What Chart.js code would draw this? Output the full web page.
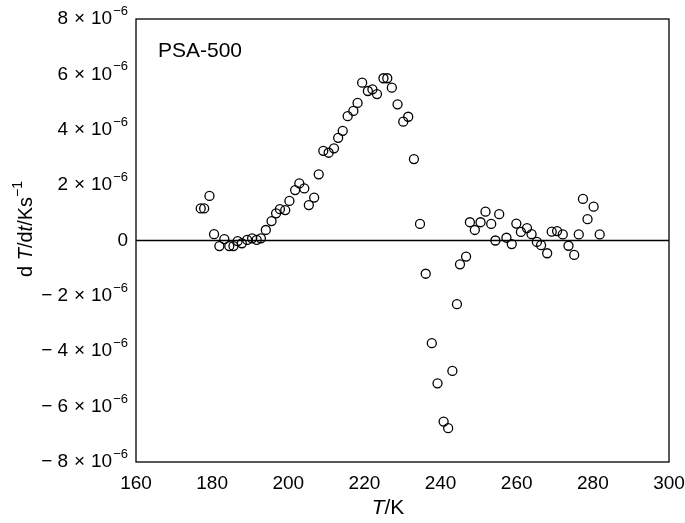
<!DOCTYPE html>
<html>
<head>
<meta charset="utf-8">
<script src="https://cdn.jsdelivr.net/npm/chart.js@4"></script>
<style>
  html, body { margin: 0; padding: 0; background: #fff; }
  #wrap { width: 685px; height: 523px; }
</style>
</head>
<body>
<div id="wrap"><canvas id="chart"></canvas></div>
<script>
// temperature, K
var temps = [177.0, 177.9, 179.3, 180.5, 181.9, 183.2, 184.5, 185.6, 186.7, 187.8,
  189.2, 190.5, 191.7, 192.8, 194.1, 195.6, 196.8, 197.8, 199.2, 200.3,
  201.8, 202.9, 204.2, 205.4, 206.8, 208.0, 209.2, 210.6, 212.0, 213.1,
  214.3, 215.6, 217.1, 218.2, 219.4, 220.9, 222.1, 223.3, 225.0, 226.0,
  227.2, 228.7, 230.2, 231.5, 233.0, 234.6, 236.1, 237.7, 239.2, 240.8,
  242.0, 243.1, 244.3, 245.1, 246.7, 247.7, 249.0, 250.5, 251.8, 253.3,
  254.4, 255.4, 257.3, 258.7, 259.9, 261.1, 262.7, 263.9, 265.3, 266.4,
  268.0, 269.2, 270.6, 272.1, 273.6, 275.1, 276.3, 277.4, 278.6, 280.2, 281.8]

// dT/dt in units of 1e-6 K/s
var rates = [1.16, 1.16, 1.61, 0.23, -0.20, 0.05, -0.20, -0.20, -0.02, -0.10,
  0.02, 0.08, 0.02, 0.08, 0.38, 0.70, 0.98, 1.13, 1.10, 1.43,
  1.82, 2.06, 1.88, 1.28, 1.55, 2.39, 3.24, 3.17, 3.33, 3.71,
  3.96, 4.49, 4.68, 4.97, 5.70, 5.40, 5.46, 5.29, 5.86, 5.86,
  5.52, 4.92, 4.29, 4.47, 2.94, 0.60, -1.20, -3.71, -5.16, -6.54,
  -6.78, -4.71, -2.30, -0.86, -0.58, 0.66, 0.38, 0.66, 1.04, 0.60,
  0.00, 0.95, 0.10, -0.13, 0.61, 0.31, 0.45, 0.23, -0.05, -0.17,
  -0.46, 0.32, 0.34, 0.22, -0.19, -0.52, 0.22, 1.50, 0.77, 1.22, 0.22]

var xTicks = [160, 180, 200, 220, 240, 260, 280, 300]
var yTicks = [-8, -6, -4, -2, 0, 2, 4, 6, 8]
var sampleLabel = 'PSA-500'

var font = '"Liberation Sans", Arial, sans-serif'

var points = temps.map((t, i) => ({ x: t, y: rates[i] * 1e-6 }))

function setFont(ctx, p, size) {
    ctx.font = (p.it ? 'italic ' : '') + (p.sup ? Math.round(size * 0.68) : size) + 'px ' + font
}

// pieces of text, some italic / superscript; align 'center' or 'right'
function drawRich(ctx, parts, x0, cy, size, align) {
    var w = 0
    parts.forEach(p => {
        setFont(ctx, p, size)
        p.w = ctx.measureText(p.t).width + (p.gap || 0)
        w += p.w
    })
    var x = align == 'right' ? x0 - w : x0 - w / 2
    ctx.textAlign = 'left'
    parts.forEach(p => {
        setFont(ctx, p, size)
        ctx.fillText(p.t, x, p.sup ? cy - size * 0.4 : cy)
        x += p.w
    })
}

function yParts(n) {
    if (n == 0) return [{ t: '0' }]
    var parts = []
    if (n < 0) parts.push({ t: '\u2212', gap: 5 })
    parts.push({ t: String(Math.abs(n)), gap: 6 })
    parts.push({ t: '\u00d7', gap: 6 })
    parts.push({ t: '10', gap: 1 })
    parts.push({ t: '\u22126', sup: true })
    return parts
}

var decor = {
    id: 'decor',
    beforeDatasetsDraw(chart) {
        var ctx = chart.ctx, a = chart.chartArea
        var y0 = chart.scales.y.getPixelForValue(0)
        ctx.save()
        ctx.strokeStyle = '#000'
        ctx.lineWidth = 1.5
        ctx.beginPath()
        ctx.moveTo(a.left, y0)
        ctx.lineTo(a.right, y0)
        ctx.stroke()
        ctx.lineWidth = 1.3
        ctx.strokeRect(a.left, a.top, a.right - a.left, a.bottom - a.top)
        ctx.restore()
    },
    afterDraw(chart) {
        var ctx = chart.ctx, a = chart.chartArea, ys = chart.scales.y
        ctx.save()
        ctx.fillStyle = '#000'
        ctx.textBaseline = 'middle'
        ctx.textAlign = 'left'
        ctx.font = '21px ' + font
        ctx.fillText(sampleLabel, a.left + 22, a.top + 32)

        yTicks.forEach(v => {
            drawRich(ctx, yParts(v), a.left - 8, ys.getPixelForValue(v * 1e-6), 19, 'right')
        })

        drawRich(ctx, [{ t: 'T', it: true }, { t: '/K' }], 388, 508, 21)

        ctx.translate(26, 229)
        ctx.rotate(-Math.PI / 2)
        drawRich(ctx, [{ t: 'd ' }, { t: 'T', it: true }, { t: '/d' }, { t: 't', it: true },
            { t: '/Ks' }, { t: '\u22121', sup: true }], 0, 0, 20)
        ctx.restore()
    }
}

var ctx = document.getElementById('chart').getContext('2d')
var chart = new Chart(ctx, {
    type: 'scatter',
    data: {
        datasets: [{
            data: points,
            pointStyle: 'circle',
            pointRadius: 4.5,
            pointBorderWidth: 1.3,
            borderColor: '#000',
            backgroundColor: 'rgba(0,0,0,0)'
        }]
    },
    options: {
        responsive: true,
        maintainAspectRatio: false,
        animation: false,
        layout: { padding: { top: 19, right: 16, left: 0, bottom: 0 } },
        plugins: {
            legend: { display: false },
            tooltip: { enabled: false }
        },
        scales: {
            x: {
                type: 'linear',
                min: xTicks[0],
                max: xTicks[xTicks.length - 1],
                afterBuildTicks: s => { s.ticks = xTicks.map(v => ({ value: v })) },
                grid: { display: false, drawTicks: false },
                border: { display: false },
                ticks: {
                    padding: 10,
                    color: '#000',
                    font: { family: font, size: 19 },
                    maxRotation: 0
                },
                afterFit: s => { s.height = 61; s.paddingLeft = 0; s.paddingRight = 0 }
            },
            y: {
                type: 'linear',
                min: yTicks[0] * 1e-6,
                max: yTicks[yTicks.length - 1] * 1e-6,
                afterBuildTicks: s => { s.ticks = yTicks.map(v => ({ value: v * 1e-6 })) },
                grid: { display: false, drawTicks: false },
                border: { display: false },
                ticks: { display: false },
                afterFit: s => { s.width = 136; s.paddingTop = 0; s.paddingBottom = 0 }
            }
        }
    },
    plugins: [decor]
})
chart.render()
</script>
</body>
</html>
